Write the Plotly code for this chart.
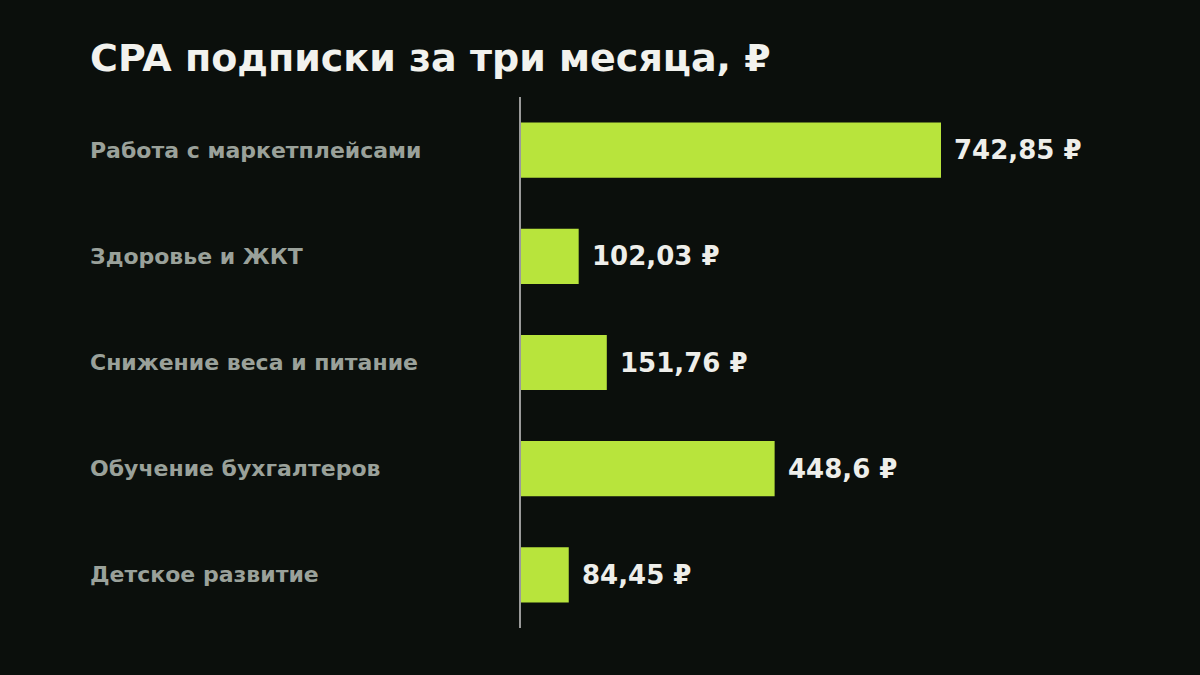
import plotly.graph_objects as go

categories = ["Работа с маркетплейсами", "Здоровье и ЖКТ", "Снижение веса и питание",
              "Обучение бухгалтеров", "Детское развитие"]
values = [742.85, 102.03, 151.76, 448.6, 84.45]
value_labels = ["742,85 ₽", "102,03 ₽", "151,76 ₽", "448,6 ₽", "84,45 ₽"]
title_text = "CPA подписки за три месяца, ₽"

BG = "#0b0f0c"
BAR = "#b8e43c"
FONT = "DejaVu Sans, sans-serif"

L, R, T, B = 521, 90, 97, 47
W, H = 1200, 675
plot_w = W - L - R
xmax = plot_w * 742.85 / 420.0

fig = go.Figure()
fig.add_trace(go.Bar(
    x=values, y=categories, orientation="h",
    marker=dict(color=BAR, line=dict(width=0)),
    width=0.52, hoverinfo="skip",
))

for c, v, t in zip(categories, values, value_labels):
    fig.add_annotation(x=v, y=c, xref="x", yref="y", text=f"<b>{t}</b>",
                       showarrow=False, xanchor="left", yanchor="middle", xshift=11,
                       font=dict(family=FONT, size=26, color="#eeeeea"))
    fig.add_annotation(x=(88 - L) / plot_w, y=c, xref="paper", yref="y", text=f"<b>{c}</b>",
                       showarrow=False, xanchor="left", yanchor="middle",
                       font=dict(family=FONT, size=22, color="#9aa19a"))

fig.add_annotation(x=(88 - L) / plot_w, y=1 + (T - 58) / (H - T - B), xref="paper", yref="paper",
                   text=f"<b>{title_text}</b>", showarrow=False, xanchor="left", yanchor="middle",
                   font=dict(family=FONT, size=38, color="#f2f2ee"))

fig.update_layout(
    width=W, height=H,
    paper_bgcolor=BG, plot_bgcolor=BG,
    margin=dict(l=L, r=R, t=T, b=B),
    showlegend=False,
    xaxis=dict(range=[0, xmax], visible=False, fixedrange=True),
    yaxis=dict(autorange=False, range=[4.5, -0.5], showticklabels=False, showgrid=False,
               zeroline=False, showline=True, linecolor="#9a9a9a", linewidth=2, ticks="",
               fixedrange=True),
)

fig.write_html("out.html", config={"displayModeBar": False},
               post_script="document.body.style.margin='0';document.body.style.background='#0b0f0c';")
